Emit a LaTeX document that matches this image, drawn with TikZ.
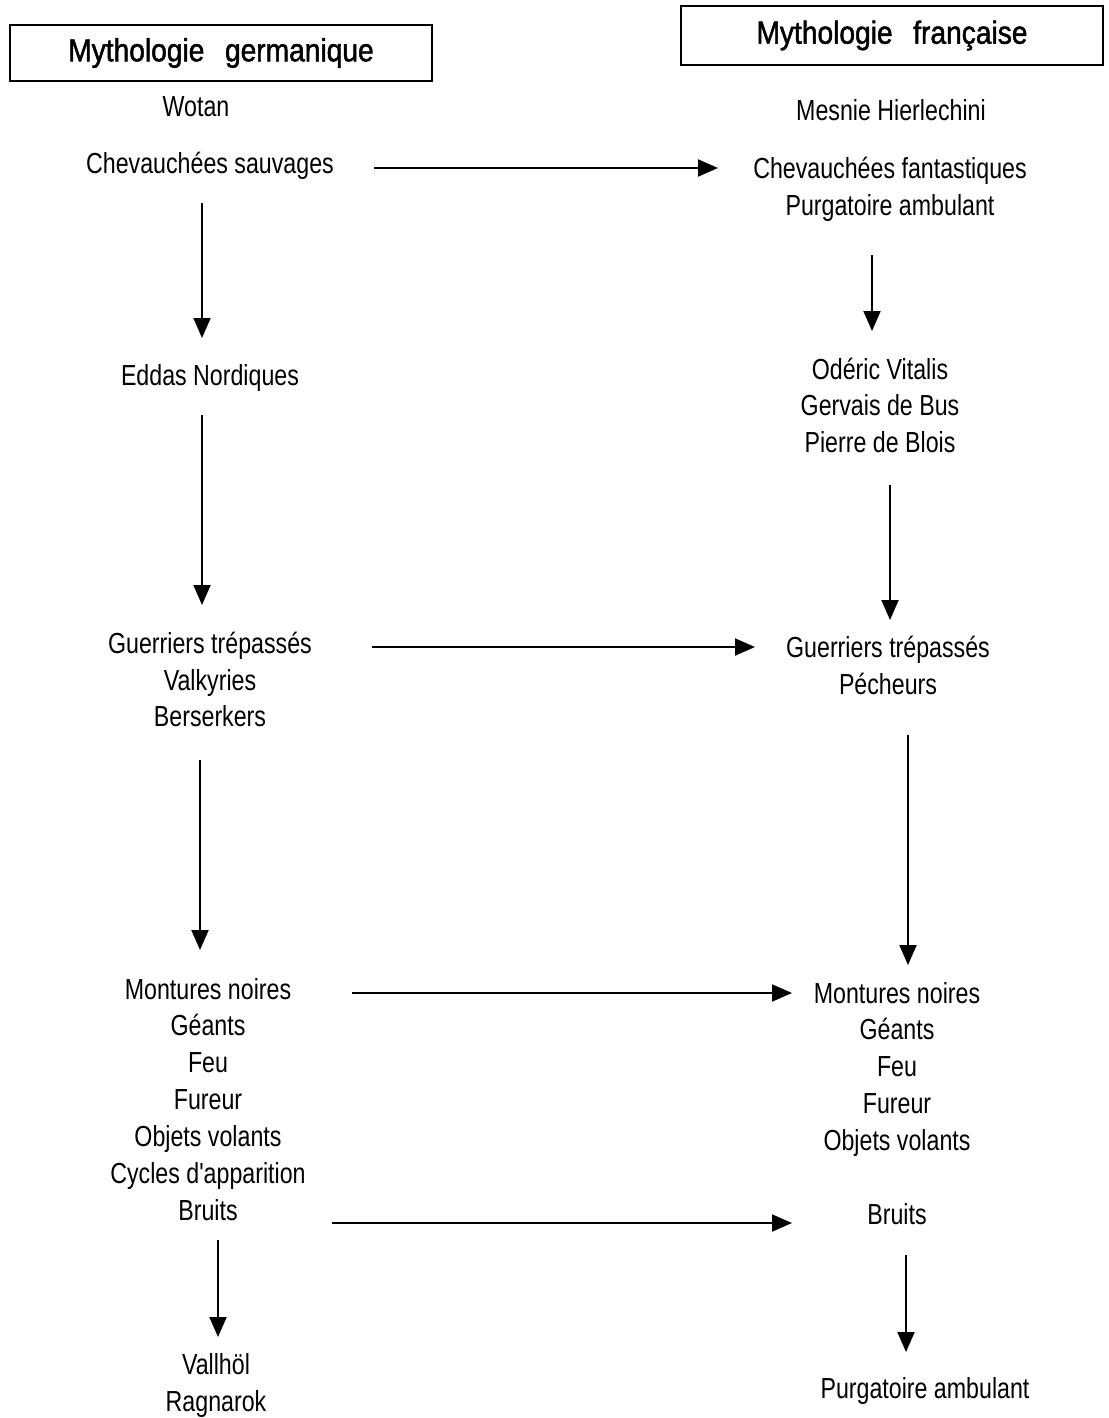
\documentclass[tikz,border=0pt]{standalone}
\usepackage{fontspec}
\setmainfont{Liberation Sans}[FakeStretch=0.8,Ligatures=TeXOff]
\newfontfamily\titlefont{Liberation Sans}[FakeStretch=0.88,FakeBold=1.5]
\usetikzlibrary{arrows.meta}
\begin{document}
\begin{tikzpicture}[x=0.5pt,y=-0.5pt,
  lbl/.style={anchor=base,inner sep=0pt,font=\fontsize{14.5}{17}\selectfont},
  ttl/.style={draw,line width=1pt,inner sep=0pt,minimum width=211pt,font=\titlefont\fontsize{16}{19}\selectfont},
  arr/.style={line width=1pt,-{Triangle[length=10pt,width=8.5pt]}}]
\fill[white] (0,0) rectangle (1108,1418);
\useasboundingbox (0,0) rectangle (1108,1418);
% titles
\node[ttl,minimum height=28pt] (tG) at (221,53) {Mythologie\hspace{0.4em} germanique};
\node[ttl,minimum height=29.5pt] (tF) at (892,35.5) {Mythologie\hspace{0.4em} française};
% left column
\node[lbl] (wotan) at (196,117) {Wotan};
\node[lbl] (chevL) at (210,173) {Chevauchées sauvages};
\node[lbl] (eddas) at (210,385) {Eddas Nordiques};
\node[lbl] (gL1) at (210,653) {Guerriers trépassés};
\node[lbl] (gL2) at (210,690) {Valkyries};
\node[lbl] (gL3) at (210,726) {Berserkers};
\node[lbl] (mL1) at (208,999) {Montures noires};
\node[lbl] (mL2) at (208,1035) {Géants};
\node[lbl] (mL3) at (208,1072) {Feu};
\node[lbl] (mL4) at (208,1109) {Fureur};
\node[lbl] (mL5) at (208,1146) {Objets volants};
\node[lbl] (mL6) at (208,1183) {Cycles d'apparition};
\node[lbl] (mL7) at (208,1220) {Bruits};
\node[lbl] (vall) at (216,1374) {Vallhöl};
\node[lbl] (rag) at (216,1411) {Ragnarok};
% right column
\node[lbl] (mesnie) at (891,120) {Mesnie Hierlechini};
\node[lbl] (chevR) at (890,178) {Chevauchées fantastiques};
\node[lbl] (purgR) at (890,215) {Purgatoire ambulant};
\node[lbl] (ode) at (880,379) {Odéric Vitalis};
\node[lbl] (gerv) at (880,415) {Gervais de Bus};
\node[lbl] (pier) at (880,452) {Pierre de Blois};
\node[lbl] (gR) at (888,657) {Guerriers trépassés};
\node[lbl] (pech) at (888,694) {Pécheurs};
\node[lbl] (mR1) at (897,1003) {Montures noires};
\node[lbl] (mR2) at (897,1039) {Géants};
\node[lbl] (mR3) at (897,1076) {Feu};
\node[lbl] (mR4) at (897,1113) {Fureur};
\node[lbl] (mR5) at (897,1150) {Objets volants};
\node[lbl] (bruitsR) at (897,1224) {Bruits};
\node[lbl] (purgR2) at (925,1398) {Purgatoire ambulant};
% connector end points
\coordinate (v1a) at (202,203);  \coordinate (v1b) at (202,338);
\coordinate (v2a) at (202,415);  \coordinate (v2b) at (202,605);
\coordinate (v3a) at (200,760);  \coordinate (v3b) at (200,950);
\coordinate (v4a) at (218,1240); \coordinate (v4b) at (218,1337);
\coordinate (r1a) at (872,255);  \coordinate (r1b) at (872,331);
\coordinate (r2a) at (890,485);  \coordinate (r2b) at (890,620);
\coordinate (r3a) at (908,735);  \coordinate (r3b) at (908,965);
\coordinate (r4a) at (906,1255); \coordinate (r4b) at (906,1352);
\coordinate (h1a) at (374,168);  \coordinate (h1b) at (718,168);
\coordinate (h2a) at (372,647);  \coordinate (h2b) at (755,647);
\coordinate (h3a) at (352,993);  \coordinate (h3b) at (792,993);
\coordinate (h4a) at (332,1223); \coordinate (h4b) at (792,1223);
% connectors
\foreach \c in {v1,v2,v3,v4,r1,r2,r3,r4,h1,h2,h3,h4}
  \draw[arr] (\c a) -- (\c b);
\end{tikzpicture}
\end{document}
